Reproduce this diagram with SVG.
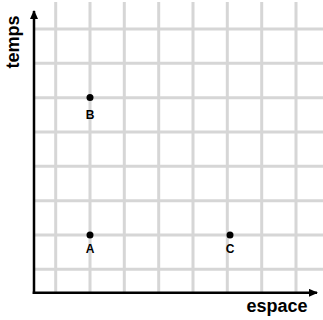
<svg xmlns="http://www.w3.org/2000/svg" width="323" height="320" viewBox="0 0 323 320">
<style>
.grid line{stroke:#d6d6d6;stroke-width:3}
.axis{stroke:#000;stroke-width:2.5;fill:none}
.pt{fill:#000}
.lbl{font-family:"Liberation Sans",Arial,sans-serif;font-weight:bold;font-size:12px;text-anchor:middle;fill:#000}
.ax{font-family:"Liberation Sans",Arial,sans-serif;font-weight:bold;font-size:18px;text-anchor:middle;fill:#000}
</style>
<defs>
<marker id="ah" viewBox="0 0 9 8" refX="8" refY="4" markerWidth="9" markerHeight="8" markerUnits="userSpaceOnUse" orient="auto">
<path d="M0,0 L9,4 L0,8 Z" fill="#000"/>
</marker>
</defs>
<rect width="323" height="320" fill="#fff"/>
<g class="grid">
<line x1="55.7" y1="2" x2="55.7" y2="292"/>
<line x1="90" y1="2" x2="90" y2="292"/>
<line x1="124.3" y1="2" x2="124.3" y2="292"/>
<line x1="158.7" y1="2" x2="158.7" y2="292"/>
<line x1="193" y1="2" x2="193" y2="292"/>
<line x1="227.3" y1="2" x2="227.3" y2="292"/>
<line x1="261.7" y1="2" x2="261.7" y2="292"/>
<line x1="296" y1="2" x2="296" y2="292"/>
<line x1="34" y1="29" x2="323" y2="29"/>
<line x1="34" y1="63.3" x2="323" y2="63.3"/>
<line x1="34" y1="97.7" x2="323" y2="97.7"/>
<line x1="34" y1="132" x2="323" y2="132"/>
<line x1="34" y1="166.3" x2="323" y2="166.3"/>
<line x1="34" y1="200.7" x2="323" y2="200.7"/>
<line x1="34" y1="235" x2="323" y2="235"/>
<line x1="34" y1="269.3" x2="323" y2="269.3"/>
</g>
<g id="connectors">
<path class="axis" d="M34,294 L34,11" marker-end="url(#ah)"/>
<path class="axis" d="M32.7,292.8 L317,292.8" marker-end="url(#ah)"/>
</g>
<g id="nodeB"><circle class="pt" cx="90" cy="97.5" r="3.5"/><text class="lbl" x="90" y="119">B</text></g>
<g id="nodeA"><circle class="pt" cx="90" cy="235" r="3.5"/><text class="lbl" x="90" y="252.5">A</text></g>
<g id="nodeC"><circle class="pt" cx="230" cy="235" r="3.5"/><text class="lbl" x="230" y="253">C</text></g>
<g id="labels">
<text class="ax" transform="translate(19,42) rotate(-90)">temps</text>
<text class="ax" x="277" y="311.5">espace</text>
</g>
</svg>
